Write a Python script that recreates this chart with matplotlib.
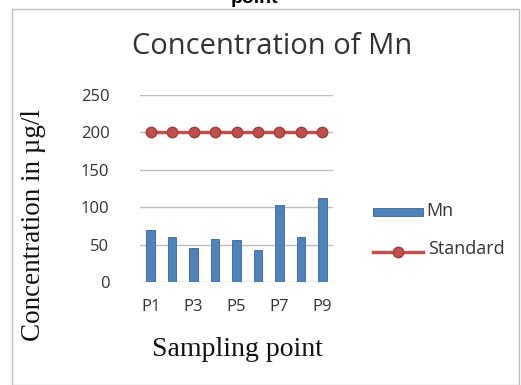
import numpy as np
import matplotlib
matplotlib.use("Agg")
import matplotlib.pyplot as plt
from matplotlib.patches import Rectangle
from matplotlib.lines import Line2D

points = ["P1", "P2", "P3", "P4", "P5", "P6", "P7", "P8", "P9"]
mn = [69, 60, 45, 58, 56, 43, 103, 60, 112]
standard = [200, 200, 200, 200, 200, 200, 200, 200, 200]
yticks = [0, 50, 100, 150, 200, 250]

blue = "#4F81BD"
red = "#C0504D"

fig = plt.figure(figsize=(5.21, 3.85), dpi=100)
W, H = 521, 385

# chart frame
fig.patches.append(Rectangle((12 / W, 0.0), (519 - 12) / W, 1 - 9 / H,
                             transform=fig.transFigure, fill=False,
                             edgecolor="#BFBFBF", linewidth=1))

# caption remnant from the page above
fig.text(255 / W, 1.005, "point", ha="center", va="center",
         fontsize=14, fontweight="bold", family="Liberation Sans")

ax = fig.add_axes([140 / W, 1 - 282 / H, 193 / W, 187 / H])
x = np.arange(len(points))
ax.bar(x, mn, width=0.4, color=blue, edgecolor="#3A6597", linewidth=0.6, zorder=3)
ax.plot(x, standard, color=red, linewidth=2.5, marker="o", markersize=7.5,
        markerfacecolor=red, markeredgecolor="#A03E3B", zorder=4)

ax.set_xlim(-0.5, len(points) - 0.5)
ax.set_ylim(0, 250)
ax.set_yticks(yticks)
ax.set_xticks(x[::2])
ax.set_xticklabels(points[::2])
for s in ax.spines.values():
    s.set_visible(False)
ax.grid(axis="y", color="#BFBFBF", linewidth=1, zorder=0)
ax.tick_params(length=0, labelsize=12, labelcolor="#333333")
for t in ax.get_xticklabels() + ax.get_yticklabels():
    t.set_family("Open Sans")
ax.tick_params(axis="y", pad=22)
ax.tick_params(axis="x", pad=12)

fig.text(272 / W, 1 - 47 / H, "Concentration of Mn", ha="center", va="center",
         fontsize=21, family="Open Sans", color="#333333")
fig.text(34 / W, 1 - 225 / H, "Concentration in µg/l", ha="center", va="center",
         rotation=90, fontsize=19.5, family="Liberation Serif", color="#111111")
fig.text(237 / W, 1 - 349 / H, "Sampling point", ha="center", va="center",
         fontsize=20, family="Liberation Serif", color="#111111")

# legend
fig.patches.append(Rectangle((373 / W, 1 - 216 / H), 50 / W, 8 / H,
                             transform=fig.transFigure, facecolor=blue,
                             edgecolor="#3A6597", linewidth=0.6))
fig.text(426 / W, 1 - 211 / H, "Mn", ha="left", va="center",
         fontsize=13, family="Open Sans", color="#333333")
fig.lines.append(Line2D([373 / W, 423 / W], [1 - 252 / H, 1 - 252 / H],
                        transform=fig.transFigure, color=red, linewidth=2.5))
fig.lines.append(Line2D([398 / W], [1 - 252 / H], transform=fig.transFigure,
                        marker="o", markersize=7.5, color=red,
                        markeredgecolor="#A03E3B"))
fig.text(428 / W, 1 - 249 / H, "Standard", ha="left", va="center",
         fontsize=13, family="Open Sans", color="#333333")

fig.savefig("out.png", dpi=100)
